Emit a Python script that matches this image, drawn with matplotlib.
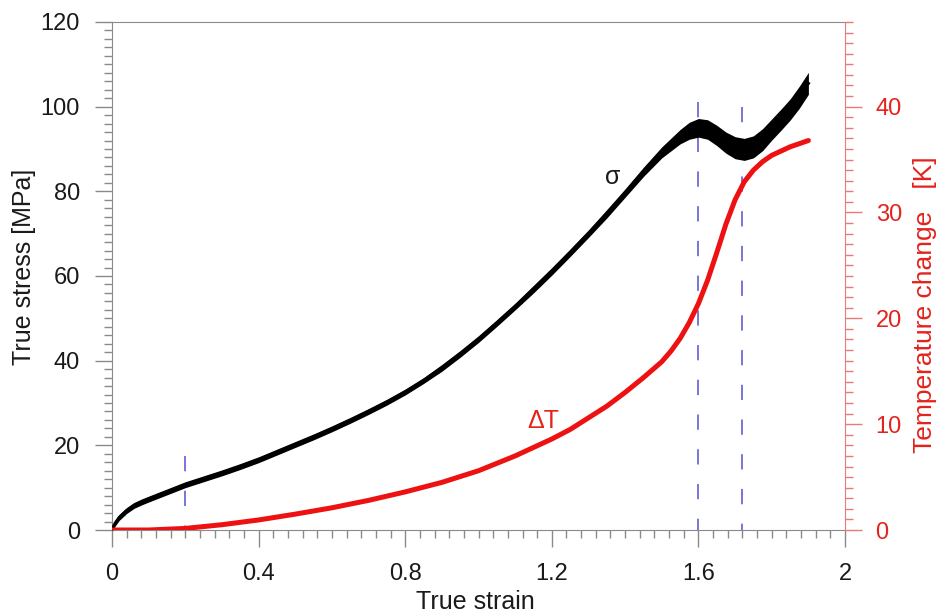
import matplotlib
matplotlib.use('Agg')
import matplotlib.pyplot as plt
import numpy as np
from matplotlib.ticker import MultipleLocator

plt.rcParams['font.family'] = ['Liberation Sans', 'DejaVu Sans']
plt.rcParams['lines.scale_dashes'] = False

# ---- data ----
# true stress (black scatter)
stress_strain = [0.00, 0.01, 0.02, 0.04, 0.06, 0.08, 0.10, 0.15, 0.20, 0.25,
                 0.30, 0.35, 0.40, 0.45, 0.50, 0.55, 0.60, 0.65, 0.70, 0.75,
                 0.80, 0.85, 0.90, 0.95, 1.00, 1.05, 1.10, 1.15, 1.20, 1.25,
                 1.30, 1.35, 1.40, 1.45, 1.50, 1.55, 1.575, 1.60, 1.625, 1.65,
                 1.675, 1.70, 1.725, 1.75, 1.775, 1.80, 1.825, 1.85, 1.875, 1.90]
stress_mpa = [0.3, 1.8, 3.0, 4.6, 5.8, 6.6, 7.3, 9.0, 10.7, 12.1,
              13.5, 15.0, 16.6, 18.4, 20.2, 22.0, 23.9, 25.9, 28.0, 30.2,
              32.6, 35.3, 38.3, 41.6, 45.1, 48.9, 52.8, 56.9, 61.1, 65.5,
              70.0, 74.7, 79.6, 84.6, 89.2, 92.9, 94.3, 95.0, 94.6, 93.2,
              91.5, 90.3, 89.9, 90.5, 92.2, 94.6, 96.9, 99.3, 102.2, 105.5]
# half width of the scatter band [MPa]
stress_spread = [0.6, 0.7, 0.7, 0.7, 0.7, 0.7, 0.7, 0.7, 0.7, 0.7,
                 0.7, 0.7, 0.7, 0.7, 0.7, 0.7, 0.7, 0.7, 0.7, 0.7,
                 0.7, 0.7, 0.8, 0.8, 0.8, 0.8, 0.8, 0.9, 0.9, 0.9,
                 0.9, 1.0, 1.0, 1.1, 1.3, 1.7, 2.0, 2.2, 2.3, 2.4,
                 2.5, 2.6, 2.6, 2.6, 2.6, 2.5, 2.5, 2.5, 2.6, 2.6]

# temperature change (red line)
temp_strain = [0.00, 0.10, 0.20, 0.30, 0.40, 0.50, 0.60, 0.70, 0.80, 0.90,
               1.00, 1.10, 1.20, 1.25, 1.30, 1.35, 1.40, 1.45, 1.50, 1.525,
               1.55, 1.575, 1.60, 1.625, 1.65, 1.675, 1.70, 1.725, 1.75, 1.775,
               1.80, 1.85, 1.90]
temp_k = [0.0, 0.0, 0.15, 0.5, 0.95, 1.5, 2.1, 2.8, 3.6, 4.5,
          5.6, 7.0, 8.6, 9.5, 10.6, 11.7, 13.0, 14.4, 15.9, 16.9,
          18.1, 19.6, 21.4, 23.6, 26.2, 28.9, 31.2, 32.9, 34.0, 34.8,
          35.4, 36.2, 36.8]

# dashed markers: strain position and top of the dash [MPa]
mark_strain = [0.2, 1.6, 1.72]
mark_top = [17.5, 101, 100]

# ============================================================================
RED = '#e3231c'
LRED = '#e87a7a'
GRAY = '#8a8a8a'
BLUE = '#6c6cd2'
DARK = '#1a1a1a'
FS_TICK = 17
FS_LAB = 18

fig = plt.figure(figsize=(9.38, 6.14), dpi=100)
ax1 = fig.add_axes([0.1194, 0.1368, 0.7815, 0.8274])
ax2 = ax1.twinx()

x = np.array(stress_strain)
y = np.array(stress_mpa)
s = np.array(stress_spread)
ax1.fill_between(x, y - s, y + s, color='black', lw=0, zorder=3)
ax1.plot(x, y, color='black', lw=2.2, zorder=3)

# dashes drawn from the top down so each line starts with a dash
for xs, top in zip(mark_strain, mark_top):
    ax1.plot([xs, xs], [top, 0], color=BLUE, lw=1.3, dashes=(11, 14), zorder=2)

ax2.plot(temp_strain, temp_k, color='#ee1111', lw=3.6, solid_capstyle='round', zorder=4)

ax1.set_xlim(0, 2)
ax1.set_ylim(0, 120)
ax2.set_ylim(0, 48)

ax1.xaxis.set_minor_locator(MultipleLocator(0.04))
ax1.yaxis.set_major_locator(MultipleLocator(20))
ax1.yaxis.set_minor_locator(MultipleLocator(2))
ax2.yaxis.set_major_locator(MultipleLocator(10))
ax2.yaxis.set_minor_locator(MultipleLocator(1))

ax1.set_xticks([0, 0.4, 0.8, 1.2, 1.6, 2.0])
ax1.set_xticklabels(['0', '0.4', '0.8', '1.2', '1.6', '2'])

ax1.tick_params(axis='both', which='major', direction='out', length=12, width=1,
                color=GRAY, labelsize=FS_TICK, labelcolor=DARK)
ax1.tick_params(axis='x', which='major', pad=12)
ax1.tick_params(axis='y', which='major', pad=11)
ax1.tick_params(axis='both', which='minor', direction='out', length=6, width=1, color=GRAY)
ax1.tick_params(axis='y', which='both', right=False)
ax2.tick_params(axis='y', which='major', direction='out', length=12, width=1,
                color=LRED, labelsize=FS_TICK, pad=10, labelcolor=RED)
ax2.tick_params(axis='y', which='minor', direction='out', length=6, width=1, color=LRED)

for sp in ['left', 'bottom', 'top']:
    ax1.spines[sp].set_color(GRAY)
ax1.spines['right'].set_visible(False)
ax2.spines['right'].set_color(LRED)
for sp in ['left', 'bottom', 'top']:
    ax2.spines[sp].set_visible(False)

ax1.set_xlabel('True strain', fontsize=FS_LAB, color=DARK)
ax1.xaxis.set_label_coords(0.496, -0.118)
ax1.set_ylabel('True stress [MPa]', fontsize=FS_LAB, color=DARK)
ax1.yaxis.set_label_coords(-0.104, 0.518)
ax2.set_ylabel('Temperature change   [K]', fontsize=19, color=RED)
ax2.yaxis.set_label_coords(1.093, 0.443)

ax1.text(1.365, 83.5, 'σ', fontsize=FS_LAB, color=DARK, ha='center', va='center')
ax2.text(1.176, 10.3, 'ΔT', fontsize=FS_LAB, color=RED, ha='center', va='center')

fig.savefig('out.png', dpi=100)
